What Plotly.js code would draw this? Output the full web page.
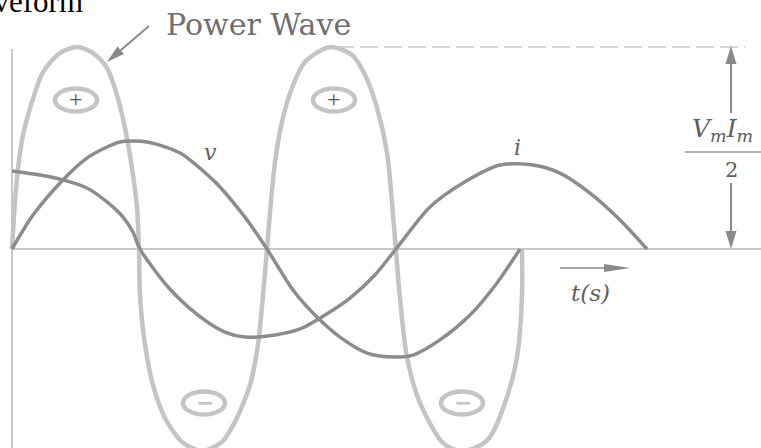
<!DOCTYPE html>
<html>
<head>
<meta charset="utf-8">
<script src="https://cdn.plot.ly/plotly-3.0.1.min.js"></script>
<style>
  html, body { margin: 0; padding: 0; background: #fff; }
  #chart { width: 761px; height: 448px; }
</style>
</head>
<body>
<div id="chart"></div>
<script>
// angle wt in degrees, values as a fraction of VmIm/2
var p_wt = [0, 2.1, 4.3, 7.8, 14.2, 22.0, 34.0, 46.1, 57.4, 67.3, 74.4, 80.1, 85.0, 88.6, 90.0,
            90.7, 94.3, 99.9, 108.4, 120.5, 134.6, 148.8, 158.0, 168.7, 174.3, 177.9, 180.7,
            183.5, 186.4, 191.3, 198.4, 207.6, 225.4, 241.0, 250.2, 258.7, 265.7, 269.3, 272.0,
            274.9, 279.9, 289.1, 305.4, 317.5, 329.5, 338.7, 350.8, 357.9, 361.4, 361.4];
var p_val = [0, .233, .401, .564, .728, .876, .970, 1.0, .970, .896, .762, .599, .401, .203, 0,
             -.228, -.475, -.673, -.837, -.955, -1.0, -.955, -.856, -.673, -.475, -.228, 0,
             .233, .431, .629, .797, .926, 1.0, .960, .861, .698, .480, .233, 0,
             -.238, -.535, -.762, -.960, -1.0, -.98, -.931, -.733, -.535, -.238, 0];

var v_wt = [0, 14.9, 36.1, 53.1, 67.3, 76.5, 95.7, 119.1, 140.3, 147.4, 166.5, 180.7,
            199.1, 216.1, 232.4, 251.6, 271.4, 284.2, 303.3, 324.6, 343.7, 360.0];
var v_val = [0, .168, .342, .450, .505, .530, .530, .475, .356, .307, .144, 0,
             -.203, -.337, -.436, -.515, -.535, -.525, -.450, -.327, -.168, 0];

var i_wt = [0, 19.8, 36.1, 53.1, 67.3, 78.7, 85.7, 90.7, 110.6, 131.8, 150.9, 165.1, 186.4,
            204.1, 221.8, 239.5, 257.2, 272.1, 296.2, 319.6, 345.8, 369.2, 388.3, 409.6, 430.9, 450.0];
var i_val = [.386, .366, .342, .302, .233, .158, .084, 0, -.188, -.327, -.411, -.436, -.426,
             -.396, -.327, -.243, -.129, 0, .208, .327, .416, .416, .376, .277, .144, 0];

var W = 761, H = 448;
// pixel -> paper helpers for the decorations
function px(x) { return x / W; }
function py(y) { return 1 - y / H; }

var light = '#c4c4c4', dark = '#8c8c8c', arrowCol = '#8a8a8a';

var data = [
  { x: p_wt, y: p_val, mode: 'lines', line: { color: light, width: 4.5, shape: 'spline', smoothing: 0.8 }, hoverinfo: 'skip' },
  { x: v_wt, y: v_val, mode: 'lines', line: { color: dark, width: 3.5, shape: 'spline', smoothing: 0.8 }, hoverinfo: 'skip' },
  { x: i_wt, y: i_val, mode: 'lines', line: { color: dark, width: 3.5, shape: 'spline', smoothing: 0.8 }, hoverinfo: 'skip' }
];

function line(x0, y0, x1, y1, col, w, dash, layer) {
  return { type: 'line', xref: 'paper', yref: 'paper', x0: px(x0), y0: py(y0), x1: px(x1), y1: py(y1),
           line: { color: col, width: w, dash: dash || 'solid' }, layer: layer || 'above' };
}
function ellipse(cx, cy, rx, ry) {
  return { type: 'circle', xref: 'paper', yref: 'paper', x0: px(cx - rx), x1: px(cx + rx),
           y0: py(cy + ry), y1: py(cy - ry), line: { color: light, width: 4.5 } };
}
// arrow from (x0,y0) to tip (x1,y1) in pixels, filled head
function arrow(x0, y0, x1, y1, len, hw, w) {
  var dx = x1 - x0, dy = y1 - y0, d = Math.sqrt(dx * dx + dy * dy);
  var ux = dx / d, uy = dy / d;
  var bx = x1 - ux * len, by = y1 - uy * len;
  var path = 'M' + px(x1) + ',' + py(y1) +
             ' L' + px(bx - uy * hw) + ',' + py(by + ux * hw) +
             ' L' + px(bx + uy * hw) + ',' + py(by - ux * hw) + ' Z';
  return [
    line(x0, y0, bx, by, arrowCol, w),
    { type: 'path', xref: 'paper', yref: 'paper', path: path, fillcolor: arrowCol, line: { width: 0 } }
  ];
}

var shapes = [
  line(12, 249, 761, 249, '#c8c8c8', 2, 'solid', 'below'),
  line(12, 49, 12, 448, '#c8c8c8', 2, 'solid', 'below'),
  line(336, 47, 745, 47, '#c8c8c8', 1.5, '18px,6px'),
  line(685, 152, 761, 152, '#9a9a9a', 1.5),
  ellipse(76, 100, 21, 11.5),
  ellipse(334, 100, 21, 11.5),
  ellipse(204, 403, 21, 11.5),
  ellipse(462, 403, 21, 11.5)
].concat(
  arrow(731, 113, 731, 46, 18, 5.5, 2),
  arrow(731, 183, 731, 249, 18, 5.5, 2),
  arrow(560, 268, 630, 268, 26, 4, 1.5),
  arrow(149, 26, 107, 62, 18, 5, 2)
);

function label(text, x, y, size, color, extra) {
  var a = { text: text, xref: 'paper', yref: 'paper', x: px(x), y: py(y), showarrow: false,
            xanchor: 'center', yanchor: 'middle',
            font: { family: 'DejaVu Serif', size: size, color: color } };
  for (var k in extra) a[k] = extra[k];
  return a;
}

var annotations = [
  label('Waveform', 85, 21, 31, '#000', { xanchor: 'right', yanchor: 'bottom',
        font: { family: 'Liberation Serif', size: 31, color: '#000' } }),
  label('Power Wave', 258, 24, 30, '#6e6e6e'),
  label('<i>v</i>', 210, 152, 22, '#606060'),
  label('<i>i</i>', 517, 147, 22, '#606060'),
  label('<i>t(s)</i>', 590, 293, 23, '#606060'),
  label('<i>V<sub>m</sub>I<sub>m</sub></i>', 722, 130, 25, '#606060'),
  label('2', 731, 170, 21, '#606060'),
  label('+', 76, 99, 22, '#555555', { font: { family: 'Liberation Serif', size: 24, color: '#555555' } }),
  label('+', 334, 99, 22, '#555555', { font: { family: 'Liberation Serif', size: 24, color: '#555555' } }),
  label('−', 205, 402, 22, light, { font: { family: 'DejaVu Sans', size: 22, color: light, weight: 'bold' } }),
  label('−', 463, 402, 22, light, { font: { family: 'DejaVu Sans', size: 22, color: light, weight: 'bold' } })
];

var layout = {
  width: W, height: H,
  margin: { l: 0, r: 0, t: 0, b: 0 },
  paper_bgcolor: '#fff', plot_bgcolor: '#fff',
  showlegend: false,
  xaxis: { range: [-12 / 1.4111, 749 / 1.4111], visible: false, fixedrange: true },
  yaxis: { range: [-199 / 202, 249 / 202], visible: false, fixedrange: true },
  shapes: shapes,
  annotations: annotations
};

Plotly.newPlot('chart', data, layout, { displayModeBar: false, staticPlot: true });
</script>
</body>
</html>
